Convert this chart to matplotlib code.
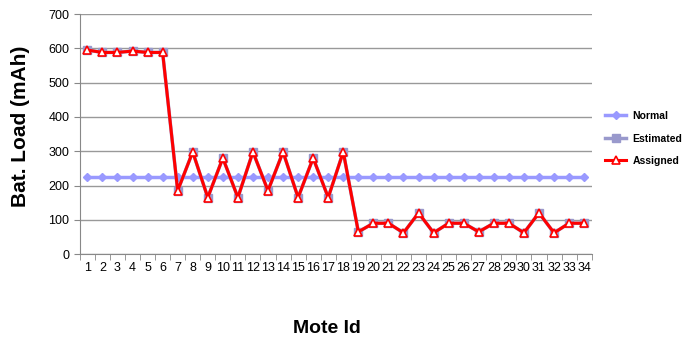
import numpy as np
import matplotlib
matplotlib.use('Agg')
import matplotlib.pyplot as plt

plt.rcParams['font.family'] = ['Liberation Sans', 'DejaVu Sans']

motes = list(range(1, 35))
normal = [225] * 34
assigned = [595, 588, 588, 592, 588, 588, 185, 298, 165, 280, 165, 298,
            185, 298, 165, 280, 165, 298, 65, 90, 90, 62, 120, 62,
            90, 90, 65, 90, 90, 62, 120, 62, 90, 90]
estimated = list(assigned)
yticks = [0, 100, 200, 300, 400, 500, 600, 700]

fig = plt.figure(figsize=(6.88, 3.42), dpi=100)
ax = fig.add_axes([0.116, 0.257, 0.744, 0.702])

x = np.array(motes)
ax.plot(x, normal, color='#9999ff', linewidth=2.5, marker='D', markersize=4,
        markerfacecolor='#9999ff', markeredgecolor='#9999ff', label='Normal', zorder=2)
ax.plot(x, estimated, color='#9999cc', linewidth=2.5, marker='s', markersize=6,
        markerfacecolor='#9999cc', markeredgecolor='#9999cc', label='Estimated', zorder=3)
ax.plot(x, assigned, color='#ff0000', linewidth=2.2, marker='^', markersize=6,
        markerfacecolor='white', markeredgecolor='#ff0000', markeredgewidth=1.2,
        label='Assigned', zorder=4)

ax.set_xlim(0.5, 34.5)
ax.set_ylim(0, 700)
ax.set_yticks(yticks)
ax.set_xticks(x)
ax.set_xticklabels([str(m) for m in motes])
ax.set_xticks(np.arange(0.5, 35, 1), minor=True)
ax.tick_params(axis='x', which='major', length=0, labelsize=9, pad=6)
ax.tick_params(axis='x', which='minor', length=4, color='#888888')
ax.tick_params(axis='y', labelsize=9, length=4, color='#888888')
for lab in ax.get_xticklabels() + ax.get_yticklabels():
    lab.set_family(['Liberation Sans Narrow', 'Liberation Sans'])

ax.grid(True, axis='y', color='#999999', linewidth=1)
ax.set_axisbelow(True)
for s in ['top', 'right']:
    ax.spines[s].set_visible(False)
ax.spines['left'].set_color('#888888')
ax.spines['bottom'].set_color('#888888')

fig.text(0.03, 0.63, 'Bat. Load (mAh)', rotation=90, fontsize=15, fontweight='bold',
         ha='center', va='center')
fig.text(0.475, 0.04, 'Mote Id', fontsize=14, fontweight='bold', ha='center', va='center')

fig.legend(loc='center left', bbox_to_anchor=(0.88, 0.595), frameon=False,
           prop={'weight': 'bold', 'size': 7.5}, handlelength=2.0, handletextpad=0.6,
           labelspacing=1.2, borderpad=0, borderaxespad=0)

fig.savefig('out.png', dpi=100)
